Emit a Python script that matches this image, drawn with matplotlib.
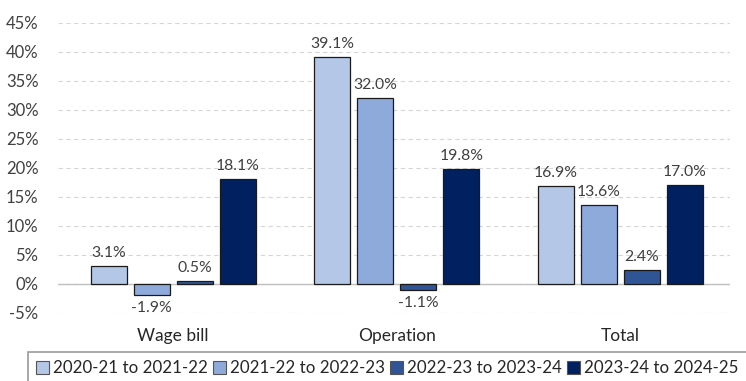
import numpy as np
import matplotlib
matplotlib.use('Agg')
import matplotlib.pyplot as plt
from matplotlib.patches import Patch

plt.rcParams['font.family'] = ['Lato', 'DejaVu Sans']

# Datos
categorias = ['Wage bill', 'Operation', 'Total']
periodos = ['2020-21 to 2021-22', '2021-22 to 2022-23',
            '2022-23 to 2023-24', '2023-24 to 2024-25']
v_2021_22 = [3.1, 39.1, 16.9]
v_2022_23 = [-1.9, 32.0, 13.6]
v_2023_24 = [0.5, -1.1, 2.4]
v_2024_25 = [18.1, 19.8, 17.0]
series = [v_2021_22, v_2022_23, v_2023_24, v_2024_25]
colores = ['#b4c7e7', '#8eaadb', '#2f5597', '#002060']

texto = '#404040'

fig = plt.figure(figsize=(7.46, 3.81), dpi=100)
ax = fig.add_axes([58 / 746, 1 - 312.7 / 381, 672 / 746, 290 / 381])

x = np.arange(len(categorias))
paso = 0.192
ancho = 0.161
for i, (vals, col) in enumerate(zip(series, colores)):
    pos = x + (i - 1.5) * paso
    ax.bar(pos, vals, ancho, color=col, edgecolor='#1a1a1a',
           linewidth=0.9, zorder=3)
    for p, v in zip(pos, vals):
        if v >= 0:
            ax.text(p, v + 1.0, f'{v:.1f}%', ha='center', va='bottom',
                    fontsize=11.3, color=texto)
        else:
            ax.text(p, v - 1.0, f'{v:.1f}%', ha='center', va='top',
                    fontsize=11.3, color=texto)

# Ejes y cuadricula
ax.set_xlim(-0.515, 2.49)
ax.set_ylim(-5, 45)
ax.set_yticks(np.arange(-5, 46, 5))
ax.set_yticklabels([f'{t}%' for t in range(-5, 46, 5)])
ax.set_xticks(x)
ax.set_xticklabels(categorias)
ax.tick_params(axis='y', length=0, pad=14, labelsize=12, labelcolor=texto)
ax.tick_params(axis='x', length=0, pad=11, labelsize=12.5, labelcolor='#262626')
for s in ax.spines.values():
    s.set_visible(False)
ax.grid(axis='y', linestyle=(0, (4, 3)), color='#d6d6d6', linewidth=0.8, zorder=0)
ax.axhline(0, color='#c0c0c0', linewidth=1.0, zorder=2)

# Leyenda
handles = [Patch(facecolor=c, edgecolor='#555555', linewidth=0.8) for c in colores]
leg = fig.legend(handles, periodos, loc='upper left',
                 bbox_to_anchor=(28 / 746, 1 - 352 / 381), ncol=4,
                 fontsize=12.2, frameon=True, fancybox=False,
                 handlelength=0.75, handleheight=0.75, handletextpad=0.25,
                 columnspacing=0.3, borderpad=0.5, borderaxespad=0)
leg.get_frame().set_edgecolor('#808080')
leg.get_frame().set_linewidth(1.2)
for t in leg.get_texts():
    t.set_color('#262626')

plt.savefig('out.png', dpi=100)
